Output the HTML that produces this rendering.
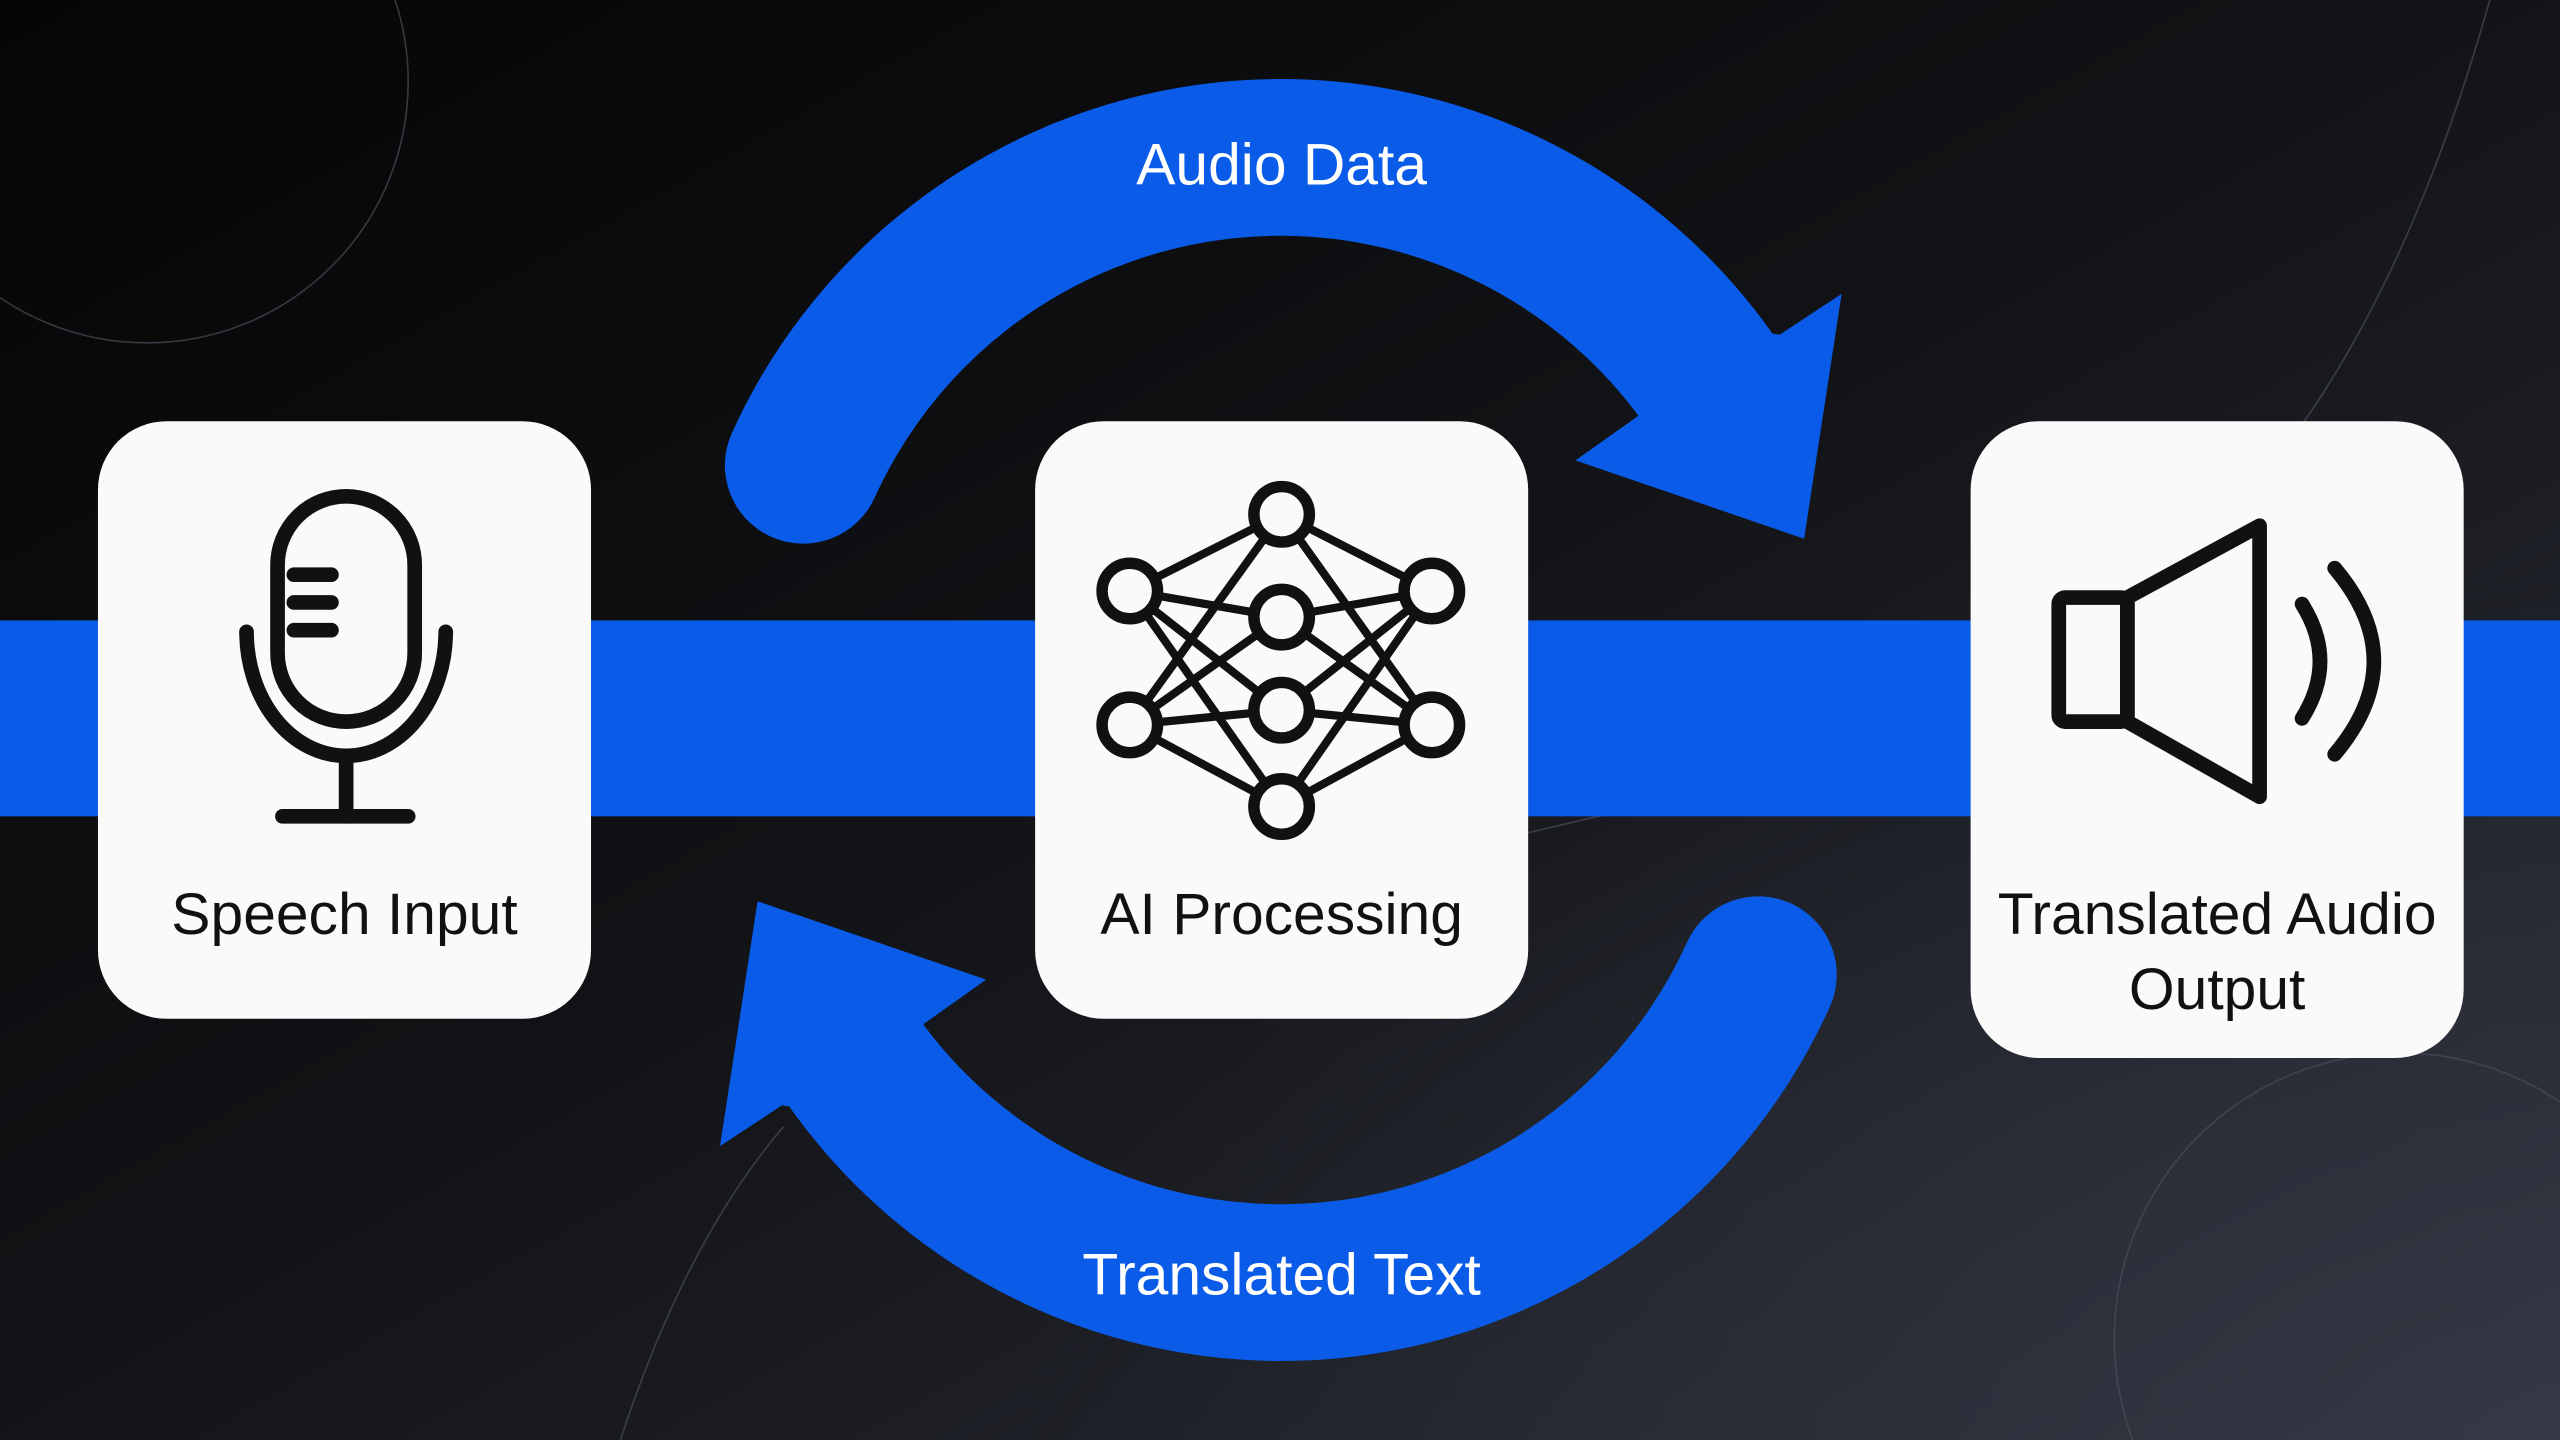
<!DOCTYPE html>
<html><head><meta charset="utf-8"><style>
html,body{margin:0;padding:0;width:2560px;height:1440px;overflow:hidden;background:#0b0b0d}
svg{display:block}
text{font-family:"Liberation Sans",sans-serif}
</style></head><body>
<svg width="2560" height="1440" viewBox="0 0 1568 882" preserveAspectRatio="none" xmlns="http://www.w3.org/2000/svg">
<defs>
<linearGradient id="bg" x1="0" y1="0" x2="1" y2="1">
<stop offset="0" stop-color="#050505"/><stop offset="0.45" stop-color="#111215"/><stop offset="1" stop-color="#2c2f3a"/>
</linearGradient>
<radialGradient id="gl" cx="1" cy="1" r="0.6"><stop offset="0" stop-color="#3a3e4c" stop-opacity="0.6"/><stop offset="1" stop-color="#3a3e4c" stop-opacity="0"/></radialGradient>
</defs>
<rect width="1568" height="882" fill="url(#bg)"/>
<rect width="1568" height="882" fill="url(#gl)"/>
<g fill="none" stroke="#4a4d58" stroke-width="1" opacity="0.7">
<circle cx="90" cy="50" r="160"/>
<circle cx="1470" cy="820" r="175"/>
<path d="M1525 0 Q1480 160 1410 260"/>
<path d="M380 882 Q420 760 480 690"/>
<path d="M936 510 L1000 495"/>
</g>
<rect x="0" y="380" width="1568" height="120" fill="#0a5ce8"/>
<!-- top arc -->
<path d="M492 285 A321 321 0 0 1 1045 230" fill="none" stroke="#0a5ce8" stroke-width="96" stroke-linecap="round"/>
<polygon points="1003,255 965,282 1105,330 1128,180 1090,205 1060,200" fill="#0a5ce8"/>
<g transform="rotate(180 784.5 441)">
<path d="M492 285 A321 321 0 0 1 1045 230" fill="none" stroke="#0a5ce8" stroke-width="96" stroke-linecap="round"/>
<polygon points="1003,255 965,282 1105,330 1128,180 1090,205 1060,200" fill="#0a5ce8"/>
</g>
<!-- cover round cap extension at arrow base -->
<text x="785" y="113" fill="#fff" font-size="36" text-anchor="middle">Audio Data</text>
<text x="785" y="793" fill="#fff" font-size="36" text-anchor="middle">Translated Text</text>
<!-- boxes -->
<rect x="60" y="258" width="302" height="366" rx="42" fill="#fafafa"/>
<rect x="634" y="258" width="302" height="366" rx="42" fill="#fafafa"/>
<rect x="1207" y="258" width="302" height="390" rx="42" fill="#fafafa"/>
<text x="211" y="572" fill="#111" font-size="36" text-anchor="middle">Speech Input</text>
<text x="785" y="572" fill="#111" font-size="36" text-anchor="middle">AI Processing</text>
<text x="1358" y="572" fill="#111" font-size="36" text-anchor="middle">Translated Audio</text>
<text x="1358" y="618" fill="#111" font-size="36" text-anchor="middle">Output</text>
<!-- mic -->
<g fill="none" stroke="#111" stroke-width="9" stroke-linecap="round">
<rect x="170" y="304" width="84" height="138" rx="42"/>
<line x1="180" y1="352" x2="203" y2="352"/><line x1="180" y1="369" x2="203" y2="369"/><line x1="180" y1="386" x2="203" y2="386"/>
<path d="M151 387 A61 76 0 0 0 273 387"/>
<line x1="212" y1="465" x2="212" y2="500"/><line x1="173" y1="500" x2="250" y2="500"/>
</g>
<!-- network -->
<g stroke="#111" stroke-width="5">
<path d="M692 362 L785 315 M692 362 L785 378 M692 362 L785 435 M692 362 L785 494 M692 444 L785 315 M692 444 L785 378 M692 444 L785 435 M692 444 L785 494 M877 362 L785 315 M877 362 L785 378 M877 362 L785 435 M877 362 L785 494 M877 444 L785 315 M877 444 L785 378 M877 444 L785 435 M877 444 L785 494"/>
</g>
<g fill="#fafafa" stroke="#111" stroke-width="7">
<circle cx="785" cy="315" r="17"/><circle cx="692" cy="362" r="17"/><circle cx="785" cy="378" r="17"/><circle cx="877" cy="362" r="17"/>
<circle cx="692" cy="444" r="17"/><circle cx="785" cy="435" r="17"/><circle cx="877" cy="444" r="17"/><circle cx="785" cy="494" r="17"/>
</g>
<!-- speaker -->
<g fill="none" stroke="#111" stroke-width="9" stroke-linejoin="round" stroke-linecap="round">
<rect x="1261" y="366" width="42" height="76" rx="4"/>
<polygon points="1303,366 1384,322 1384,488 1303,442"/>
<path d="M1410 370 Q1432 405 1410 440"/>
<path d="M1430 348 Q1478 405 1430 462"/>
</g>
</svg>
</body></html>
